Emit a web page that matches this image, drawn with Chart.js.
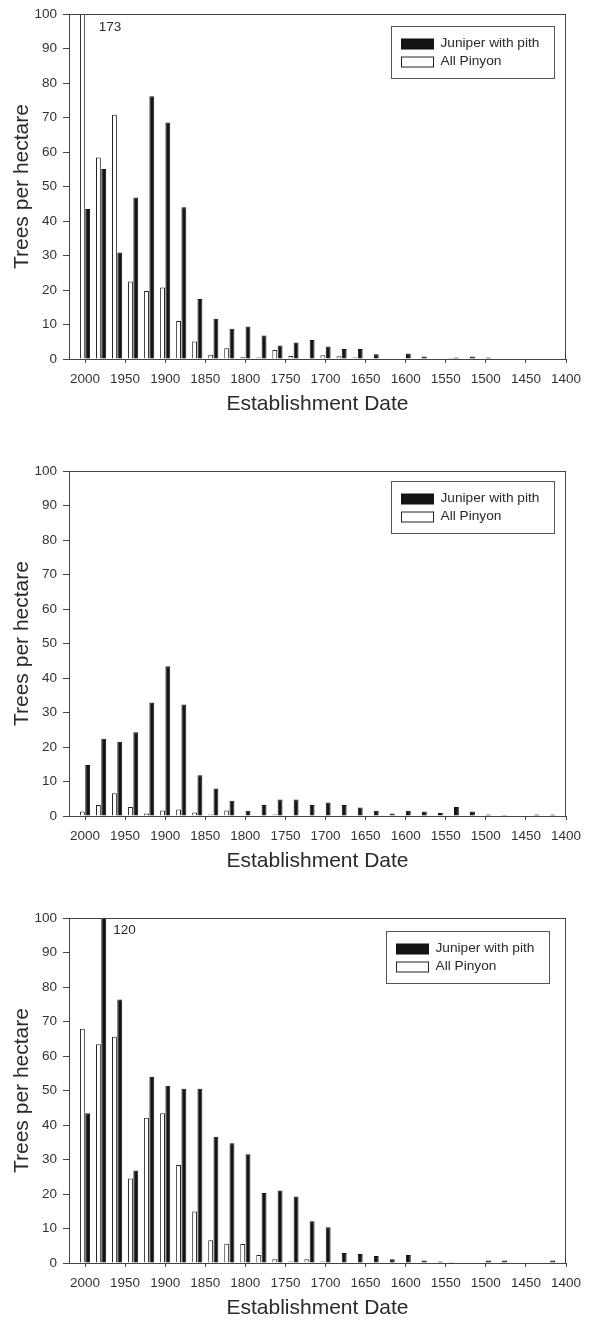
<!DOCTYPE html>
<html>
<head>
<meta charset="utf-8">
<title>Establishment dates of juniper and pinyon</title>
<script src="https://cdn.jsdelivr.net/npm/chart.js@4/dist/chart.umd.min.js"></script>
<style>
  html, body { margin: 0; padding: 0; background: #fff; overflow: hidden; }
  #wrap { position: relative; width: 592px; height: 1321px; }
  .panel { position: absolute; left: 0; width: 592px; height: 417px; }
  .panel canvas { display: block; }
</style>
</head>
<body>
<div id="wrap">
  <div class="panel" style="top:0px"><canvas id="c1" width="592" height="417"></canvas></div>
  <div class="panel" style="top:457px"><canvas id="c2" width="592" height="417"></canvas></div>
  <div class="panel" style="top:904px"><canvas id="c3" width="592" height="417"></canvas></div>
</div>
<script>
// 20-year establishment classes (bin centres), newest first
const years = [2000, 1980, 1960, 1940, 1920, 1900, 1880, 1860, 1840, 1820,
               1800, 1780, 1760, 1740, 1720, 1700, 1680, 1660, 1640, 1620,
               1600, 1580, 1560, 1540, 1520, 1500, 1480, 1460, 1440, 1420];

// Axis tick labels
const xTickValues = [2000, 1950, 1900, 1850, 1800, 1750, 1700, 1650, 1600, 1550, 1500, 1450, 1400];
const yTickValues = [0, 10, 20, 30, 40, 50, 60, 70, 80, 90, 100];

const seriesLabels = ['All Pinyon', 'Juniper with pith'];

// Site 1 (trees per hectare)
const pinyon1 = [173, 58.4, 70.8, 22.5, 19.7, 20.7, 11.0, 5.1, 1.2, 3.1,
                 0.5, 0.4, 2.6, 0.9, null, 1.1, 0.8, 0.4, null, null,
                 null, null, null, 0.3, null, null, null, null, null, null];
const juniper1 = [43.5, 55.1, 30.9, 46.8, 76.2, 68.6, 44.0, 17.4, 11.7, 8.8,
                  9.4, 6.8, 3.9, 4.8, 5.5, 3.6, 2.9, 2.9, 1.4, null,
                  1.6, 0.7, null, 0.4, 0.7, 0.4, null, null, null, null];

// Site 2
const pinyon2 = [1.3, 3.2, 6.6, 2.6, 0.7, 1.6, 1.9, 1.0, 0.4, 1.6,
                 null, null, 0.4, null, null, null, null, null, null, null,
                 null, null, null, null, null, null, null, null, null, null];
const juniper2 = [14.8, 22.4, 21.5, 24.3, 32.9, 43.4, 32.3, 11.8, 8.0, 4.4,
                  1.5, 3.2, 4.8, 4.8, 3.2, 3.9, 3.2, 2.5, 1.5, 0.7,
                  1.5, 1.3, 0.9, 2.6, 1.3, 0.4, 0.3, null, 0.4, 0.4];

// Site 3
const pinyon3 = [67.9, 63.4, 65.6, 24.5, 42.1, 43.4, 28.4, 14.9, 6.6, 5.6,
                 5.5, 2.3, 1.1, 0.4, 1.1, 0.4, null, null, null, null,
                 null, null, null, 0.3, null, null, null, null, null, null];
const juniper3 = [43.4, 120, 76.4, 26.8, 54.0, 51.4, 50.5, 50.5, 36.6, 34.7,
                  31.5, 20.3, 21.0, 19.3, 12.1, 10.4, 2.9, 2.6, 2.0, 1.1,
                  2.3, 0.7, 0.4, null, null, 0.7, 0.7, null, null, 0.7];

const FONT = "'Liberation Sans', Arial, Helvetica, sans-serif";
const AXIS = '#444';
const TEXT = '#2a2a2a';
Chart.defaults.font.family = FONT;
Chart.defaults.color = TEXT;

const toPoints = vals => years.map((yr, i) => ({ x: yr, y: vals[i] }));

// Closed frame around the plotting area
const framePlugin = {
  id: 'frame',
  afterDraw(chart) {
    const { ctx, chartArea: a } = chart;
    ctx.save();
    ctx.strokeStyle = AXIS;
    ctx.lineWidth = 1;
    ctx.strokeRect(Math.round(a.left) + 0.5, Math.round(a.top) + 0.5,
                   Math.round(a.right - a.left) - 1, Math.round(a.bottom - a.top));
    ctx.restore();
  }
};

// Values of bars cut off by the top of the axis are written beside them
const overflowPlugin = {
  id: 'overflowLabel',
  afterDatasetsDraw(chart, args, opts) {
    const { ctx, chartArea: a } = chart;
    const yMax = chart.scales.y.max;
    ctx.save();
    ctx.font = '13.5px ' + FONT;
    ctx.fillStyle = TEXT;
    ctx.textAlign = 'left';
    ctx.textBaseline = 'middle';
    chart.data.datasets.forEach((ds, di) => {
      const meta = chart.getDatasetMeta(di);
      ds.data.forEach((pt, i) => {
        if (pt.y != null && pt.y > yMax) {
          const el = meta.data[i];
          ctx.fillText(String(pt.y), el.x + el.width / 2 + opts.dx, a.top + opts.dy);
        }
      });
    });
    ctx.restore();
  }
};

// Boxed legend inside the top-right corner of the plot
const insetLegendPlugin = {
  id: 'insetLegend',
  afterDraw(chart, args, opts) {
    const { ctx, chartArea: a } = chart;
    const x0 = Math.round(a.right - opts.right - opts.width) + 0.5;
    const y0 = Math.round(a.top + opts.top) + 0.5;
    ctx.save();
    ctx.fillStyle = '#fff';
    ctx.fillRect(x0, y0, opts.width, opts.height);
    ctx.strokeStyle = '#555';
    ctx.lineWidth = 1;
    ctx.strokeRect(x0, y0, opts.width, opts.height);
    ctx.font = '13.7px ' + FONT;
    ctx.textBaseline = 'middle';
    ctx.textAlign = 'left';
    const items = chart.data.datasets.slice().reverse();
    items.forEach((ds, i) => {
      const cy = y0 + opts.firstRow + i * opts.rowGap;
      ctx.fillStyle = ds.backgroundColor;
      ctx.fillRect(x0 + 10, Math.round(cy - 5), 32, 10);
      ctx.strokeStyle = ds.borderColor;
      ctx.strokeRect(x0 + 10, Math.round(cy - 5), 32, 10);
      ctx.fillStyle = TEXT;
      ctx.fillText(ds.label, x0 + 49, cy);
    });
    ctx.restore();
  }
};

function makeChart(id, pinyon, juniper, overflow, legendPos) {
  return new Chart(document.getElementById(id), {
    type: 'bar',
    data: {
      datasets: [
        { label: seriesLabels[0], data: toPoints(pinyon), backgroundColor: '#ffffff',
          borderColor: '#222', borderWidth: 1, clip: 0 },
        { label: seriesLabels[1], data: toPoints(juniper), backgroundColor: '#141414',
          borderColor: '#111', borderWidth: 1, clip: 0 }
      ]
    },
    options: {
      responsive: false,
      devicePixelRatio: 1,
      animation: false,
      categoryPercentage: 0.66,
      barPercentage: 0.92,
      layout: { padding: { left: 0, top: 14, right: 26, bottom: 0 } },
      plugins: {
        legend: { display: false },
        tooltip: { enabled: false },
        overflowLabel: overflow,
        insetLegend: legendPos
      },
      scales: {
        x: {
          type: 'linear',
          reverse: true,
          min: 1400,
          max: 2020,
          offset: false,
          afterBuildTicks: s => { s.ticks = xTickValues.map(v => ({ value: v })); },
          afterFit: s => { s.height = 58; },
          ticks: {
            autoSkip: false, maxRotation: 0, padding: 8,
            font: { size: 13.5 }, color: '#333',
            callback: v => String(v)
          },
          grid: { display: true, offset: false, drawOnChartArea: false, drawTicks: true,
                  tickLength: 4, color: AXIS },
          border: { display: true, color: AXIS, width: 1 },
          title: { display: true, text: 'Establishment Date', font: { size: 21 },
                   color: TEXT, padding: { top: 0, bottom: 0 } }
        },
        y: {
          min: 0,
          max: 100,
          afterBuildTicks: s => { s.ticks = yTickValues.map(v => ({ value: v })); },
          afterFit: s => { s.width = 69; },
          ticks: { padding: 6, font: { size: 13.5 }, color: '#333' },
          grid: { display: true, drawOnChartArea: false, drawTicks: true,
                  tickLength: 6, color: AXIS },
          border: { display: true, color: AXIS, width: 1 },
          title: { display: true, text: 'Trees per hectare', font: { size: 21 },
                   color: TEXT, padding: { top: 10, bottom: 0 } }
        }
      }
    },
    plugins: [framePlugin, overflowPlugin, insetLegendPlugin]
  });
}

const legendBox = { right: 12, top: 12, width: 163, height: 52, firstRow: 17, rowGap: 18 };

makeChart('c1', pinyon1, juniper1, { dx: 14, dy: 13 }, legendBox);
makeChart('c2', pinyon2, juniper2, { dx: 14, dy: 13 }, Object.assign({}, legendBox, { top: 10 }));
makeChart('c3', pinyon3, juniper3, { dx: 7, dy: 12 }, Object.assign({}, legendBox, { right: 17, top: 13 }));
</script>
</body>
</html>
